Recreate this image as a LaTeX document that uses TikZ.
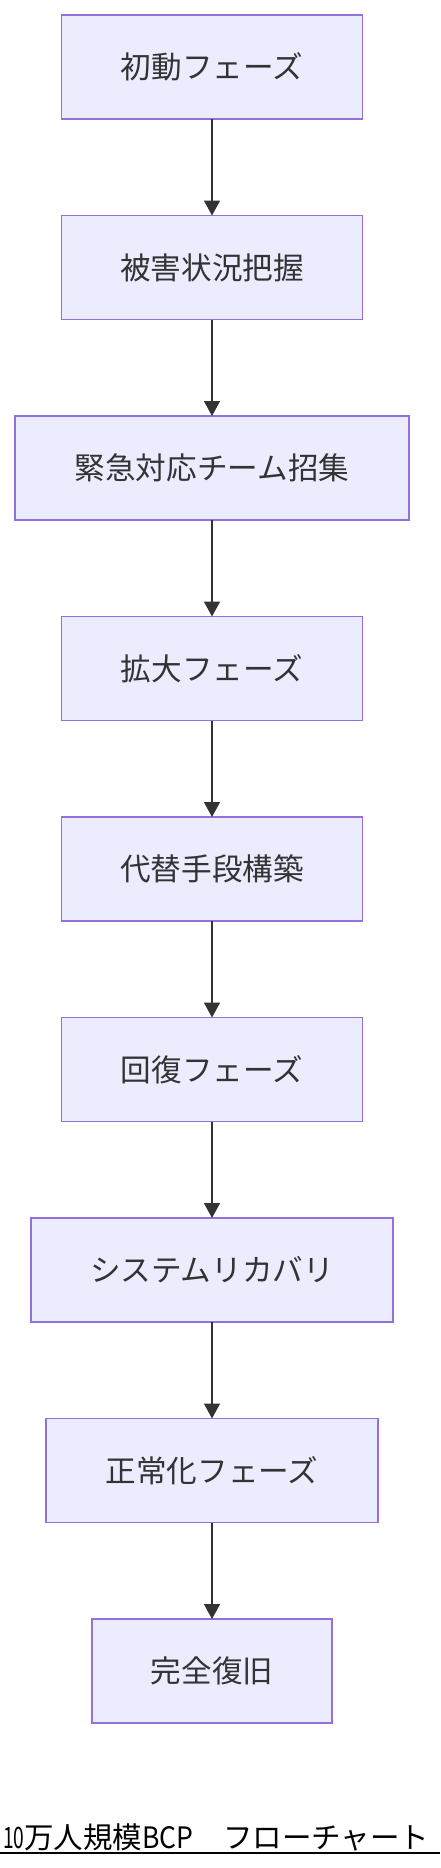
\documentclass[tikz,border=0pt]{standalone}
\usepackage{fontspec}
\setmainfont{Noto Sans CJK JP}
\usetikzlibrary{arrows.meta}

\definecolor{phasefill}{HTML}{ECECFF}
\definecolor{phaseline}{HTML}{9370DB}
\definecolor{ink}{HTML}{333333}

\tikzset{
	phase/.style={rectangle, fill=phasefill, draw=phaseline, line width=1.3pt, minimum height=104pt, inner sep=0pt, outer sep=0pt, text=ink, font=\fontsize{30.6pt}{36pt}\selectfont},
	flow/.style={-{Triangle[width=16pt,length=15pt]}, line width=1.5pt, color=ink}
}

\begin{document}
\begin{tikzpicture}[x=1pt, y=-1pt]

		\useasboundingbox (0,0) rectangle (440,1868);

		\node[phase, minimum width=301pt](one) at (212,67){初動フェーズ};
		\node[phase, minimum width=301pt](two) at (212,267.5){被害状況把握};
		\node[phase, minimum width=394pt](three) at (212,468){緊急対応チーム招集};
		\node[phase, minimum width=301pt](four) at (212,668.5){拡大フェーズ};
		\node[phase, minimum width=301pt](five) at (212,869){代替手段構築};
		\node[phase, minimum width=301pt](six) at (212,1069.5){回復フェーズ};
		\node[phase, minimum width=362pt](seven) at (212,1270){システムリカバリ};
		\node[phase, minimum width=332pt](eight) at (212,1470.5){正常化フェーズ};
		\node[phase, minimum width=240pt](nine) at (212,1671){完全復旧};

		\draw [flow] (one.south) -- (two.north);
		\draw [flow] (two.south) -- (three.north);
		\draw [flow] (three.south) -- (four.north);
		\draw [flow] (four.south) -- (five.north);
		\draw [flow] (five.south) -- (six.north);
		\draw [flow] (six.south) -- (seven.north);
		\draw [flow] (seven.south) -- (eight.north);
		\draw [flow] (eight.south) -- (nine.north);

		% title, narrow latin as in the original
		\node[anchor=base west, inner sep=0pt, font=\fontsize{29.5pt}{36pt}\selectfont](title) at (3,1848){\scalebox{0.65}[1]{10}万人規模\scalebox{0.9}[1]{BCP}　フローチャート};
		\draw [line width=2pt, color=black] (0,1853) -- (440,1853);

	\end{tikzpicture}
\end{document}
